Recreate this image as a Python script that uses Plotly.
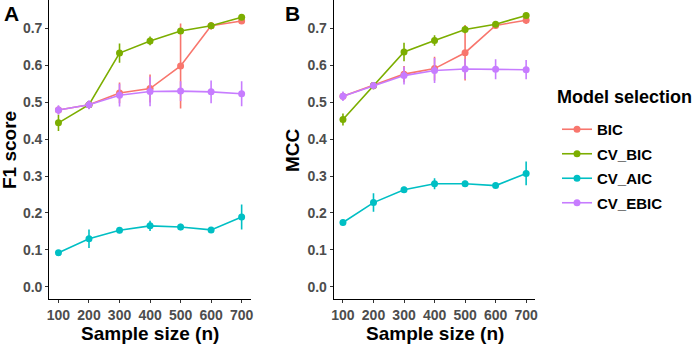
import plotly.graph_objects as go

sample_sizes = [100, 200, 300, 400, 500, 600, 700]
x_tick_labels = ["100", "200", "300", "400", "500", "600", "700"]
y_tick_vals = [0.0, 0.1, 0.2, 0.3, 0.4, 0.5, 0.6, 0.7]
y_tick_labels = ["0.0", "0.1", "0.2", "0.3", "0.4", "0.5", "0.6", "0.7"]
methods = ["BIC", "CV_BIC", "CV_AIC", "CV_EBIC"]
method_colors = ["#F8766D", "#7CAE00", "#00BFC4", "#C77CFF"]

# Panel A: F1 score
f1_bic = [0.479, 0.493, 0.525, 0.537, 0.598, 0.707, 0.720]
f1_bic_err = [0.010, 0.010, 0.028, 0.038, 0.115, 0.010, 0.008]
f1_cvbic = [0.444, 0.493, 0.633, 0.666, 0.693, 0.707, 0.730]
f1_cvbic_err = [0.022, 0.010, 0.026, 0.012, 0.008, 0.008, 0.006]
f1_cvaic = [0.092, 0.130, 0.153, 0.165, 0.162, 0.154, 0.189]
f1_cvaic_err = [0.006, 0.025, 0.008, 0.014, 0.009, 0.006, 0.034]
f1_cvebic = [0.479, 0.493, 0.519, 0.529, 0.530, 0.528, 0.523]
f1_cvebic_err = [0.013, 0.012, 0.031, 0.040, 0.027, 0.031, 0.034]

# Panel B: MCC
mcc_bic = [0.516, 0.545, 0.576, 0.591, 0.634, 0.708, 0.722]
mcc_bic_err = [0.010, 0.010, 0.022, 0.032, 0.075, 0.010, 0.010]
mcc_cvbic = [0.453, 0.545, 0.636, 0.667, 0.697, 0.711, 0.735]
mcc_cvbic_err = [0.016, 0.010, 0.025, 0.014, 0.010, 0.008, 0.006]
mcc_cvaic = [0.174, 0.228, 0.263, 0.279, 0.279, 0.274, 0.307]
mcc_cvaic_err = [0.008, 0.025, 0.008, 0.015, 0.008, 0.006, 0.032]
mcc_cvebic = [0.516, 0.545, 0.572, 0.586, 0.590, 0.589, 0.588]
mcc_cvebic_err = [0.013, 0.010, 0.024, 0.034, 0.027, 0.027, 0.026]

f1_values = [f1_bic, f1_cvbic, f1_cvaic, f1_cvebic]
f1_errors = [f1_bic_err, f1_cvbic_err, f1_cvaic_err, f1_cvebic_err]
mcc_values = [mcc_bic, mcc_cvbic, mcc_cvaic, mcc_cvebic]
mcc_errors = [mcc_bic_err, mcc_cvbic_err, mcc_cvaic_err, mcc_cvebic_err]

FONT = "Liberation Sans"
W, H = 699, 346

fig = go.Figure()

for panel, (vals, errs) in enumerate([(f1_values, f1_errors), (mcc_values, mcc_errors)]):
    xa = "x" if panel == 0 else "x2"
    ya = "y" if panel == 0 else "y2"
    for name, color, v, e in zip(methods, method_colors, vals, errs):
        fig.add_trace(go.Scatter(
            x=sample_sizes, y=v, mode="lines+markers", name=name,
            legendgroup=name, showlegend=(panel == 0),
            line=dict(color=color, width=1.6),
            marker=dict(color=color, size=7),
            error_y=dict(type="data", array=e, visible=True, color=color,
                         thickness=1.6, width=0),
            xaxis=xa, yaxis=ya,
        ))

def px_x(p):
    return p / W

def px_y(p):
    return 1 - p / H

axis_common = dict(
    showline=True, linecolor="black", linewidth=1.3, mirror=False,
    showgrid=False, zeroline=False, ticks="outside", ticklen=3,
    tickwidth=1.1, tickcolor="#333333", automargin=False,
    tickfont=dict(family=FONT, size=14, color="#4D4D4D", weight="bold"),
)

x_range = [70, 730]
y_range = [-0.034, 0.776]

fig.update_layout(
    width=W, height=H,
    margin=dict(l=0, r=0, t=0, b=0, autoexpand=False),
    paper_bgcolor="white", plot_bgcolor="white",
    font=dict(family=FONT),
    xaxis=dict(domain=[px_x(49.3), px_x(250.8)], range=x_range,
               tickvals=sample_sizes, ticktext=x_tick_labels, anchor="y", **axis_common),
    yaxis=dict(domain=[px_y(299.3), px_y(0.3)], range=y_range,
               tickvals=y_tick_vals, ticktext=y_tick_labels, anchor="x", **axis_common),
    xaxis2=dict(domain=[px_x(333.8), px_x(535.3)], range=x_range,
                tickvals=sample_sizes, ticktext=x_tick_labels, anchor="y2", **axis_common),
    yaxis2=dict(domain=[px_y(299.3), px_y(0.3)], range=y_range,
                tickvals=y_tick_vals, ticktext=y_tick_labels, anchor="x2", **axis_common),
    legend=dict(
        x=px_x(557), y=px_y(113), xanchor="left", yanchor="top",
        font=dict(family=FONT, size=15, color="black", weight="bold"),
        bgcolor="rgba(0,0,0,0)", tracegroupgap=2, itemwidth=30,
    ),
)

annotations = [
    dict(text="A", x=px_x(2), y=1, xanchor="left", yanchor="top",
         font=dict(size=21, color="black", weight="bold")),
    dict(text="B", x=px_x(283), y=1, xanchor="left", yanchor="top",
         font=dict(size=21, color="black", weight="bold")),
    dict(text="F1 score", x=px_x(10), y=px_y(150), textangle=-90,
         xanchor="center", yanchor="middle",
         font=dict(size=19, color="black", weight="bold")),
    dict(text="MCC", x=px_x(293), y=px_y(150), textangle=-90,
         xanchor="center", yanchor="middle",
         font=dict(size=19, color="black", weight="bold")),
    dict(text="Sample size (n)", x=px_x(150), y=px_y(333),
         xanchor="center", yanchor="middle",
         font=dict(size=19, color="black", weight="bold")),
    dict(text="Sample size (n)", x=px_x(434.5), y=px_y(333),
         xanchor="center", yanchor="middle",
         font=dict(size=19, color="black", weight="bold")),
    dict(text="Model selection", x=px_x(555), y=px_y(97),
         xanchor="left", yanchor="middle",
         font=dict(size=18, color="black", weight="bold")),
]
for a in annotations:
    a.update(xref="paper", yref="paper", showarrow=False)
    a["font"]["family"] = FONT
fig.update_layout(annotations=annotations)

fig.write_html(
    "out.html",
    config={"displayModeBar": False},
    post_script="document.body.style.margin='0';document.body.style.overflow='hidden';",
)
